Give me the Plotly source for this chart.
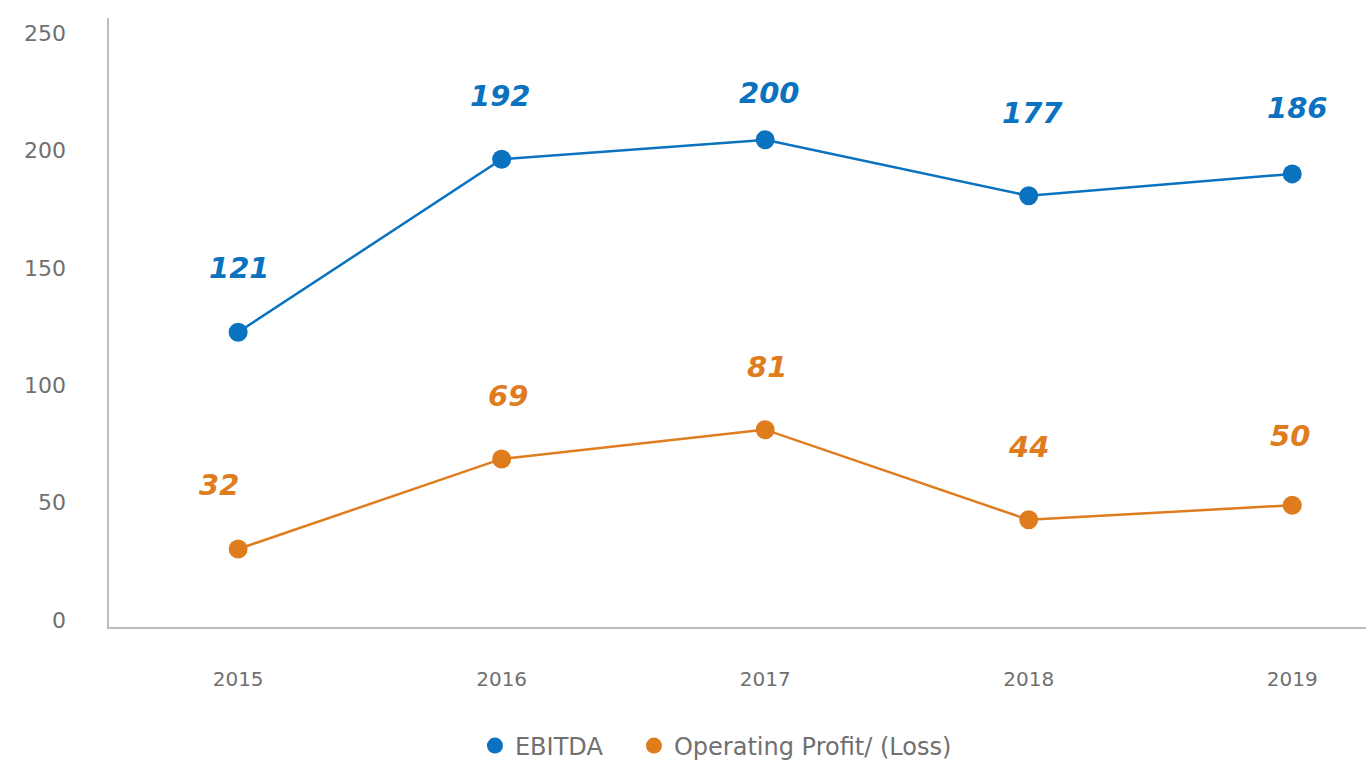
import plotly.graph_objects as go

years = ["2015", "2016", "2017", "2018", "2019"]
ebitda = [121, 192, 200, 177, 186]
op_profit = [32, 69, 81, 44, 50]
y_ticks = [0, 50, 100, 150, 200, 250]

BLUE = "#0A72BE"
ORANGE = "#DF7D1E"
GREY = "#707070"
FONT = "DejaVu Sans"

fig = go.Figure()
series = [("EBITDA", ebitda, BLUE, "legend"),
          ("Operating Profit/ (Loss)", op_profit, ORANGE, "legend2")]
for name, vals, col, _ in series:
    fig.add_trace(go.Scatter(
        x=years, y=vals, name=name, mode="lines+markers", showlegend=False,
        line=dict(color=col, width=2.5),
        marker=dict(color=col, size=19),
    ))
# legend entries shown as plain dots
for name, vals, col, leg in series:
    fig.add_trace(go.Scatter(
        x=[None], y=[None], name=name, mode="markers", legend=leg,
        marker=dict(color=col, size=18),
    ))

# value labels above each point (per-label nudges in px)
ebitda_shift = [(1, 64), (-1, 63), (4, 47), (4, 83), (5, 66)]
op_shift = [(-19, 64), (6, 63), (2, 63), (0, 73), (-2, 69)]
for i in range(len(years)):
    for vals, shifts, col in ((ebitda, ebitda_shift, BLUE), (op_profit, op_shift, ORANGE)):
        fig.add_annotation(x=i, y=vals[i], xref="x", yref="y",
                           text=f"<b><i>{vals[i]}</i></b>",
                           showarrow=False, xshift=shifts[i][0], yshift=shifts[i][1],
                           font=dict(family=FONT, size=29, color=col))

legend_style = dict(orientation="h", xanchor="left",
                    yref="container", y=0.021, yanchor="middle",
                    font=dict(family=FONT, size=24, color=GREY),
                    itemsizing="trace", xref="container")

fig.update_layout(
    width=1366, height=762,
    margin=dict(l=109, r=0, t=18, b=135, autoexpand=False),
    paper_bgcolor="white", plot_bgcolor="white",
    font=dict(family=FONT, color=GREY),
    showlegend=True,
    legend=dict(x=0.3477, **legend_style),
    legend2=dict(x=0.4641, **legend_style),
    xaxis=dict(
        type="category", range=[-0.49, 4.28],
        showline=True, linecolor="#BDBDBD", linewidth=2,
        showgrid=False, ticks="", zeroline=False,
        tickfont=dict(family=FONT, size=20, color=GREY),
        ticklabelstandoff=33,
    ),
    yaxis=dict(
        range=[0, 250], showticklabels=False,
        showline=True, linecolor="#BDBDBD", linewidth=2,
        showgrid=False, ticks="", zeroline=False,
    ),
    # value scale printed alongside the plot
    yaxis2=dict(
        overlaying="y", side="left", range=[-2.98, 256.4], tickvals=y_ticks,
        showline=False, showgrid=False, ticks="", zeroline=False,
        tickfont=dict(family=FONT, size=22, color=GREY),
        ticklabelstandoff=42,
    ),
)
# keep the second axis active so its labels render
fig.add_trace(go.Scatter(x=[None], y=[None], yaxis="y2", showlegend=False,
                         hoverinfo="skip"))

fig.write_html("out.html")
